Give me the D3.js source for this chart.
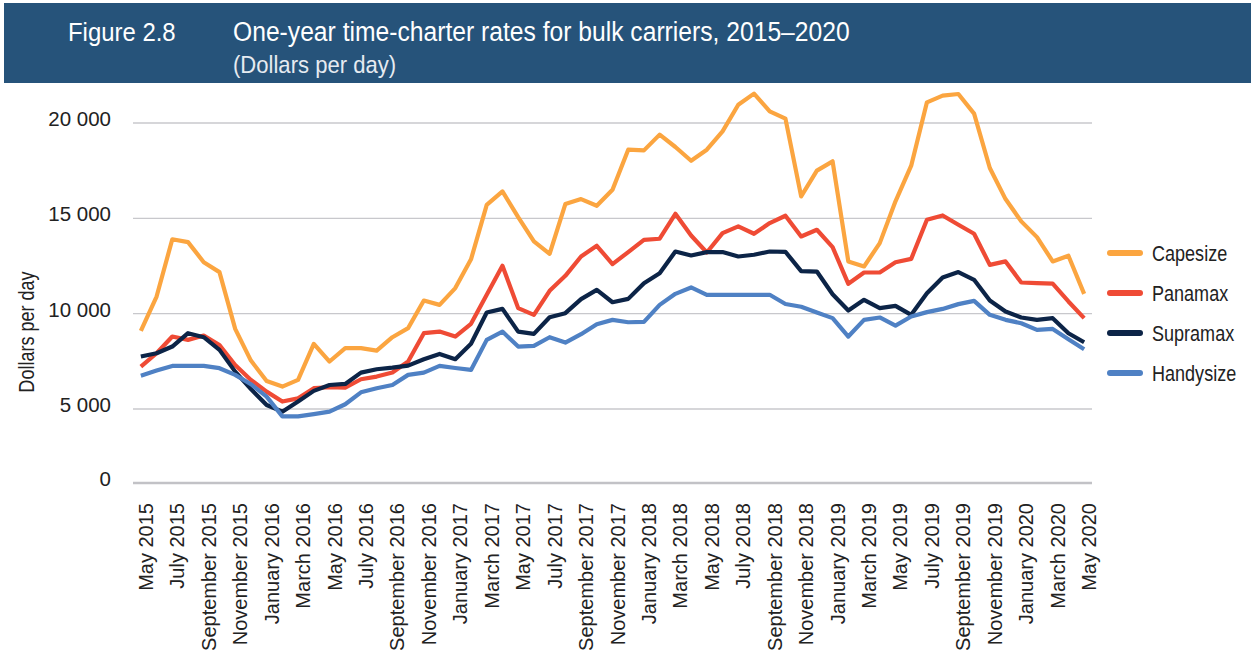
<!DOCTYPE html>
<html><head><meta charset="utf-8">
<script src="https://cdn.jsdelivr.net/npm/d3@7"></script>
<style>body{margin:0;background:#fff}svg{display:block}</style>
</head><body><svg id="c" width="1251" height="650"></svg>
<script>
const months = ["May 2015","June 2015","July 2015","August 2015","September 2015","October 2015","November 2015","December 2015",
"January 2016","February 2016","March 2016","April 2016","May 2016","June 2016","July 2016","August 2016","September 2016","October 2016","November 2016","December 2016",
"January 2017","February 2017","March 2017","April 2017","May 2017","June 2017","July 2017","August 2017","September 2017","October 2017","November 2017","December 2017",
"January 2018","February 2018","March 2018","April 2018","May 2018","June 2018","July 2018","August 2018","September 2018","October 2018","November 2018","December 2018",
"January 2019","February 2019","March 2019","April 2019","May 2019","June 2019","July 2019","August 2019","September 2019","October 2019","November 2019","December 2019",
"January 2020","February 2020","March 2020","April 2020","May 2020"];
const capesize = [9100,10900,13900,13750,12700,12180,9200,7540,6470,6175,
6525,8415,7490,8190,8190,8065,8765,9240,10690,10460,
11340,12850,15710,16410,15065,13790,13140,15750,16010,15660,
16500,18600,18565,19390,18740,18020,18600,19560,20960,21540,
20610,20230,16150,17500,17990,12740,12475,13700,15890,17760,
21085,21435,21520,20490,17640,16010,14840,14015,12740,13040,
11040];
const panamax = [7225,7925,8800,8625,8850,8360,7310,6525,5910,5390,
5560,6090,6140,6125,6560,6700,6910,7490,8975,9060,
8800,9470,10990,12510,10290,9940,11200,11985,13000,13560,
12600,13230,13875,13930,15240,14100,13210,14225,14575,14190,
14750,15135,14050,14400,13490,11565,12160,12160,12700,12875,
14925,15150,14660,14190,12560,12740,11635,11600,11580,10640,
9765];
const supramax = [7750,7925,8275,8975,8765,8100,6960,6050,5210,4820,
5390,5950,6260,6315,6910,7085,7170,7275,7610,7890,
7610,8420,10060,10250,9060,8940,9815,10025,10760,11250,
10600,10775,11600,12125,13260,13050,13230,13230,13000,13090,
13260,13245,12230,12210,11020,10165,10725,10290,10410,9940,
11075,11900,12180,11775,10690,10115,9800,9675,9765,8975,
8500];
const handysize = [6750,7015,7260,7260,7260,7140,6790,6300,5650,4500,
4500,4650,4820,5250,5875,6090,6260,6790,6910,7260,
7150,7050,8625,9060,8275,8310,8765,8485,8925,9450,
9675,9550,9570,10460,11040,11375,10990,10990,10990,10990,
10990,10510,10360,10060,9765,8800,9675,9800,9375,9850,
10080,10250,10500,10670,9940,9675,9500,9150,9200,8660,
8135];
const seriesNames = ["Capesize","Panamax","Supramax","Handysize"];
const seriesColors = ["#fba540","#ef4b35","#0c2447","#4f81c4"];
const yTicks = [0,5000,10000,15000,20000];
const titleText = "One-year time-charter rates for bulk carriers, 2015–2020";
const subtitleText = "(Dollars per day)";
const figureText = "Figure 2.8";
const yTitle = "Dollars per day";

const FONT = "Liberation Sans, Arial, Helvetica, sans-serif";
const svg = d3.select("#c");
const seriesData = [capesize, panamax, supramax, handysize];

// header
svg.append("rect").attr("x",4).attr("y",3).attr("width",1247).attr("height",80).attr("fill","#26537a");
svg.append("text").attr("transform","translate(68,41) scale(0.92,1)").attr("fill","#fff").attr("font-family",FONT).attr("font-size",26).text(figureText);
svg.append("text").attr("transform","translate(233,41) scale(0.92,1)").attr("fill","#fff").attr("font-family",FONT).attr("font-size",26.8).text(titleText);
svg.append("text").attr("transform","translate(233,73) scale(0.92,1)").attr("fill","#e6ebf1").attr("font-family",FONT).attr("font-size",24).text(subtitleText);

const x = d3.scalePoint().domain(months).range([133,1092]).padding(0.5);
const y = d3.scaleLinear().domain([0,5000,20000]).range([483,409,123]);

// gridlines
const grid = svg.append("g");
grid.selectAll("line").data(yTicks.filter(d=>d>0)).join("line")
  .attr("x1",133).attr("x2",1092).attr("y1",d=>y(d)).attr("y2",d=>y(d))
  .attr("stroke","#c8c8cc").attr("stroke-width",1.3);
grid.append("line").attr("x1",133).attr("x2",1092).attr("y1",y(0)).attr("y2",y(0))
  .attr("stroke","#c2c2c6").attr("stroke-width",2.6);

// y axis labels
const yAxis = d3.axisLeft(y).tickValues(yTicks).tickSize(0).tickPadding(0)
  .tickFormat(d => d3.format(",")(d).replace(/,/g," "));
const ya = svg.append("g").attr("transform","translate(111,-4)").call(yAxis);
ya.select(".domain").remove();
ya.selectAll("text").attr("font-family",FONT).attr("font-size",20.5).attr("fill","#222");

// x axis labels
const xAxis = d3.axisBottom(x).tickValues(months.filter((d,i)=>i%2===0)).tickSize(0).tickPadding(0);
const xa = svg.append("g").call(xAxis);
xa.select(".domain").remove();
xa.selectAll(".tick").attr("transform", d => `translate(${x(d)+12},503)`);
xa.selectAll("text").attr("font-family",FONT).attr("font-size",20).attr("fill","#222")
  .attr("transform","rotate(-90)").attr("text-anchor","end").attr("x",0).attr("y",0).attr("dy",null);

// y title
svg.append("text").attr("transform","translate(34,332) rotate(-90) scale(0.82,1)").attr("text-anchor","middle")
  .attr("font-family",FONT).attr("font-size",22).attr("fill","#222").text(yTitle);

// lines
const line = d3.line().x((d,i)=>x(months[i])).y(d=>y(d));
svg.append("g").selectAll("path").data(seriesData).join("path")
  .attr("d", d=>line(d)).attr("fill","none")
  .attr("stroke",(d,i)=>seriesColors[i]).attr("stroke-width",4.2).attr("stroke-linejoin","round");

// legend
const lg = svg.append("g").selectAll("g").data(seriesNames).join("g")
  .attr("transform",(d,i)=>`translate(1108,${253+i*40})`);
lg.append("line").attr("x1",2).attr("x2",32).attr("stroke",(d,i)=>seriesColors[i]).attr("stroke-width",6).attr("stroke-linecap","round");
lg.append("text").attr("transform","translate(44,8) scale(0.82,1)").attr("font-family",FONT).attr("font-size",22).attr("fill","#222").text(d=>d);
</script></body></html>
